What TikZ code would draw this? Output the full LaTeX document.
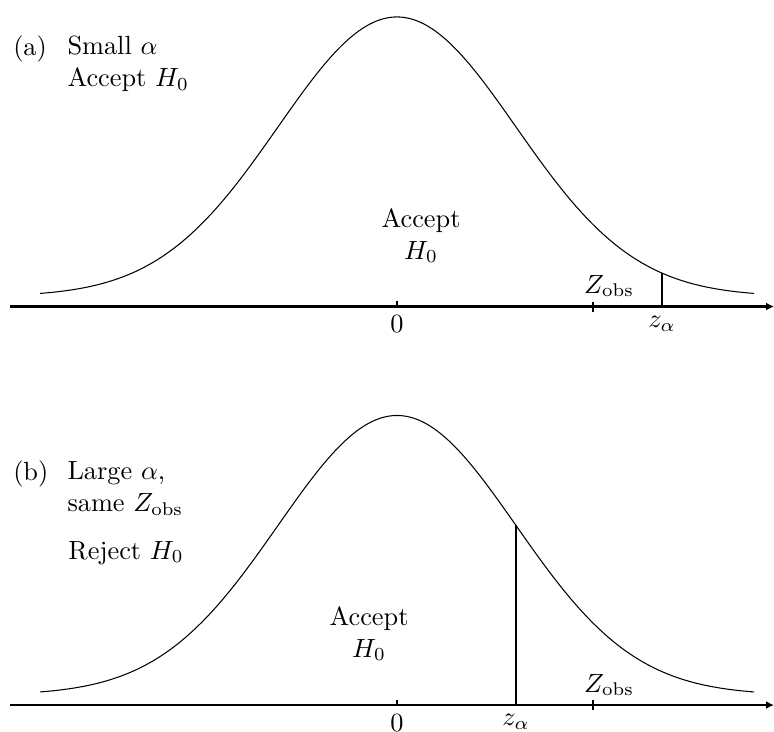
\documentclass[tikz,border=0pt]{standalone}
\usetikzlibrary{arrows.meta, positioning, calc}

\newcommand{\bellht}[1]{10+279.5*exp(-(#1)*(#1)/2)}

\begin{document}
\begin{tikzpicture}[x=45.22pt, y=0.38pt,
    axis/.style={thick, -{Latex[length=3pt, width=3pt]}},
    bell/.style={line width=0.4pt, smooth, samples=150, domain=-3:3},
    crit/.style={thick},
    tick/.style={thick},
    lbl/.style={inner sep=0pt, align=left},
    mid/.style={inner sep=0pt, align=center}]
    \useasboundingbox (-3.336,-26) rectangle (3.168,705);

    % (a) small alpha
    \begin{scope}[shift={(0,398.5)}]
        \coordinate (axLa) at (-3.252,0);
        \coordinate (axRa) at (3.168,0);
        \draw[axis] (axLa) -- (axRa);
        \draw[bell] plot (\x, {\bellht{\x}});
        \coordinate (zeroa) at (0,0);
        \draw[tick] (zeroa) -- ++(0,5.5);
        \node[below=3.3pt of zeroa, inner sep=0pt] (zerolbla) {$0$};
        \coordinate (obsa) at (1.647,0);
        \draw[tick] ($(obsa)+(0,-5)$) -- ($(obsa)+(0,5)$);
        \node[anchor=base, inner sep=0pt] (obslbla) at (1.782,13.5) {$Z_{\mathrm{obs}}$};
        \coordinate (zfoota) at (2.227,0);
        \coordinate (ztopa) at (2.227,{\bellht{2.227}});
        \draw[crit] (zfoota) -- (ztopa);
        \node[below] (zlbla) at (zfoota) {$z_\alpha$};
        \node[anchor=base west, inner sep=0pt] (taga) at (-3.229,251.5) {(a)};
        % base of a two-line node is its last line
        \node[lbl, anchor=base west] (capa) at (-2.773,220) {Small $\alpha$\\Accept $H_0$};
        \node[mid, anchor=base] (acca) at (0.202,47.5) {Accept\\$H_0$};
    \end{scope}

    % (b) large alpha, same Z_obs
    \begin{scope}
        \coordinate (axLb) at (-3.252,0);
        \coordinate (axRb) at (3.168,0);
        \draw[axis] (axLb) -- (axRb);
        \draw[bell] plot (\x, {\bellht{\x}});
        \coordinate (zerob) at (0,0);
        \draw[tick] (zerob) -- ++(0,5.5);
        \node[below=3.3pt of zerob, inner sep=0pt] (zerolblb) {$0$};
        \coordinate (obsb) at (1.647,0);
        \draw[tick] ($(obsb)+(0,-5)$) -- ($(obsb)+(0,5)$);
        \node[anchor=base, inner sep=0pt] (obslblb) at (1.782,13) {$Z_{\mathrm{obs}}$};
        \coordinate (zfootb) at (1.0,0);
        \coordinate (ztopb) at (1.0,{\bellht{1.0}});
        \draw[crit] (zfootb) -- (ztopb);
        \node[below] (zlblb) at (zfootb) {$z_\alpha$};
        \node[anchor=base west, inner sep=0pt] (tagb) at (-3.229,225) {(b)};
        \node[lbl, anchor=base west] (capb) at (-2.773,193.5) {Large $\alpha$,\\same $Z_{\mathrm{obs}}$};
        \node[lbl, anchor=base west] (rejb) at (-2.765,146) {Reject $H_0$};
        \node[mid, anchor=base] (accb) at (-0.235,48) {Accept\\$H_0$};
    \end{scope}
\end{tikzpicture}
\end{document}
